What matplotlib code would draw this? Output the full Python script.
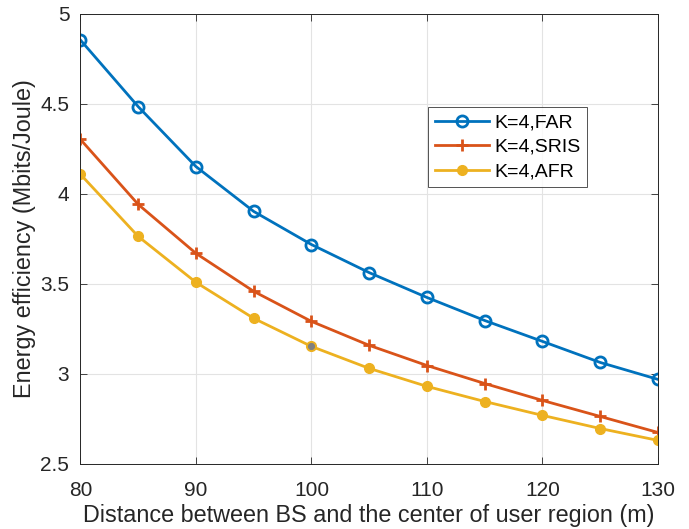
import matplotlib

matplotlib.use("Agg")
import matplotlib.pyplot as plt

plt.rcParams["font.family"] = ["Liberation Sans", "DejaVu Sans"]

distance = [80, 85, 90, 95, 100, 105, 110, 115, 120, 125, 130]
ee_far = [4.855, 4.485, 4.152, 3.903, 3.719, 3.563, 3.425, 3.297, 3.181, 3.064, 2.97]
ee_sris = [4.303, 3.942, 3.67, 3.459, 3.292, 3.159, 3.047, 2.947, 2.853, 2.764, 2.675]
ee_afr = [4.109, 3.764, 3.509, 3.309, 3.153, 3.031, 2.931, 2.847, 2.77, 2.697, 2.631]
x_ticks = [80, 90, 100, 110, 120, 130]
y_ticks = [2.5, 3, 3.5, 4, 4.5, 5]
y_tick_labels = ["2.5", "3", "3.5", "4", "4.5", "5"]

fig = plt.figure(figsize=(6.89, 5.29), dpi=100)
ax = fig.add_axes([0.1168, 0.1229, 0.8382, 0.8507])

ax.plot(distance, ee_far, color="#0072BD", lw=2.0, marker="o", ms=8,
        mfc="none", mew=2.0, label="K=4,FAR")
ax.plot(distance, ee_sris, color="#D95319", lw=2.0, marker="+", ms=9,
        mew=2.0, label="K=4,SRIS")
ax.plot(distance, ee_afr, color="#EDB120", lw=2.0, marker="o", ms=7,
        mfc="#EDB120", mew=1.0, label="K=4,AFR")
# highlighted data point
ax.plot(distance[4], ee_afr[4], marker="o", ms=6, mfc="#808080",
        mec="#EDB120", mew=0.8, ls="none")

ax.set_xlim(80, 130)
ax.set_ylim(2.5, 5)
ax.set_xticks(x_ticks)
ax.set_yticks(y_ticks)
ax.set_yticklabels(y_tick_labels)
ax.tick_params(direction="in", top=True, right=True, labelsize=15,
               colors="#262626", length=5, width=0.6)
ax.tick_params(axis="x", pad=12)
ax.tick_params(axis="y", pad=8)
ax.grid(True, color="#e3e3e3", lw=0.8)
ax.set_axisbelow(True)
for s in ax.spines.values():
    s.set_color("#262626")
    s.set_linewidth(0.7)

ax.set_xlabel("Distance between BS and the center of user region (m)",
              fontsize=16.8, color="#262626", labelpad=3)
ax.set_ylabel("Energy efficiency (Mbits/Joule)", fontsize=16.8,
              color="#262626", labelpad=3)

leg = ax.legend(loc="upper left", bbox_to_anchor=(0.602, 0.793), fontsize=14,
                frameon=True, fancybox=False, edgecolor="#262626",
                handlelength=2.8, borderpad=0.35, labelspacing=0.35,
                handletextpad=0.25, borderaxespad=0)
leg.get_frame().set_linewidth(0.7)

fig.savefig("out.png", dpi=100)
